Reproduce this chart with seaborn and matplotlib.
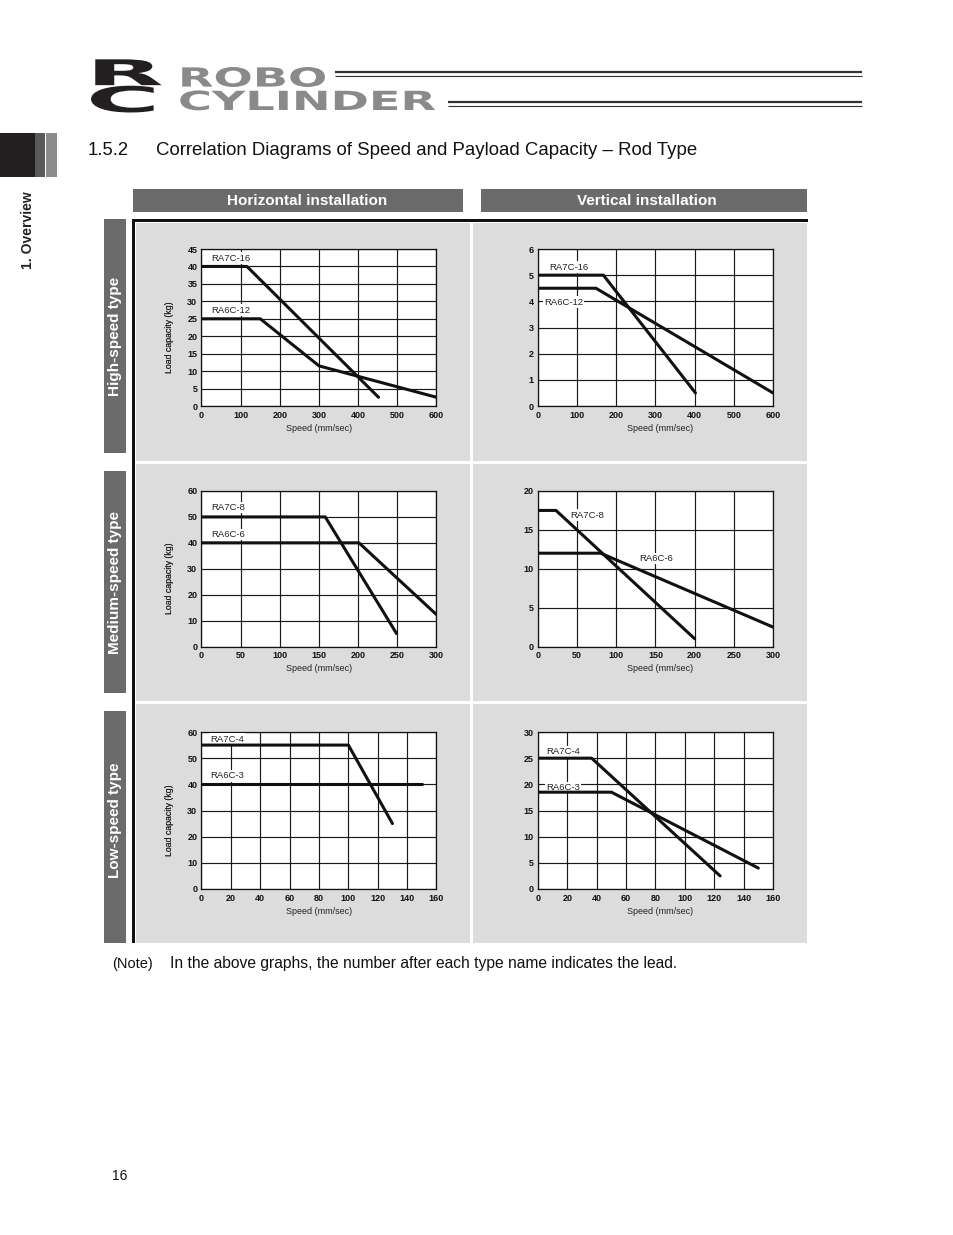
import matplotlib
matplotlib.use("Agg")
import matplotlib.pyplot as plt
import seaborn as sns
from matplotlib.patches import Rectangle
from matplotlib.lines import Line2D
from matplotlib.transforms import Affine2D
from matplotlib import patheffects

# ---------------- data ----------------
SPEED_TICKS_HIGH = [0, 100, 200, 300, 400, 500, 600]
SPEED_TICKS_MED = [0, 50, 100, 150, 200, 250, 300]
SPEED_TICKS_LOW = [0, 20, 40, 60, 80, 100, 120, 140, 160]
LOAD_TICKS_H_HIGH = [0, 5, 10, 15, 20, 25, 30, 35, 40, 45]
LOAD_TICKS_V_HIGH = [0, 1, 2, 3, 4, 5, 6]
LOAD_TICKS_H_MED = [0, 10, 20, 30, 40, 50, 60]
LOAD_TICKS_V_MED = [0, 5, 10, 15, 20]
LOAD_TICKS_H_LOW = [0, 10, 20, 30, 40, 50, 60]
LOAD_TICKS_V_LOW = [0, 5, 10, 15, 20, 25, 30]

H_HIGH_RA7C16_SPEED = [0, 116, 452]
H_HIGH_RA7C16_LOAD = [40, 40, 2.5]
H_HIGH_RA6C12_SPEED = [0, 150, 300, 600]
H_HIGH_RA6C12_LOAD = [25, 25, 11.5, 2.5]

V_HIGH_RA7C16_SPEED = [0, 167, 402]
V_HIGH_RA7C16_LOAD = [5, 5, 0.5]
V_HIGH_RA6C12_SPEED = [0, 148, 600]
V_HIGH_RA6C12_LOAD = [4.5, 4.5, 0.5]

H_MED_RA7C8_SPEED = [0, 158, 249]
H_MED_RA7C8_LOAD = [50, 50, 5]
H_MED_RA6C6_SPEED = [0, 201, 300]
H_MED_RA6C6_LOAD = [40, 40, 12.3]

V_MED_RA7C8_SPEED = [0, 23, 200]
V_MED_RA7C8_LOAD = [17.5, 17.5, 1]
V_MED_RA6C6_SPEED = [0, 80, 300]
V_MED_RA6C6_LOAD = [12, 12, 2.5]

H_LOW_RA7C4_SPEED = [0, 100, 130]
H_LOW_RA7C4_LOAD = [55, 55, 25]
H_LOW_RA6C3_SPEED = [0, 150]
H_LOW_RA6C3_LOAD = [40, 40]

V_LOW_RA7C4_SPEED = [0, 36.5, 124]
V_LOW_RA7C4_LOAD = [25, 25, 2.5]
V_LOW_RA6C3_SPEED = [0, 50, 150]
V_LOW_RA6C3_LOAD = [18.5, 18.5, 4]

COLUMN_TITLES = ["Horizontal installation", "Vertical installation"]
ROW_TITLES = ["High-speed type", "Medium-speed type", "Low-speed type"]

# ---------------- style ----------------
sns.set_style("white")
plt.rcParams["font.family"] = ["Liberation Sans", "DejaVu Sans"]

W, H = 954, 1235
fig = plt.figure(figsize=(W / 100, H / 100), dpi=100)
fig.patch.set_facecolor("white")


def fx(x):
    return x / W


def fy(y):
    return 1 - y / H


def rect(x0, y0, x1, y1, color, z=-3):
    fig.add_artist(Rectangle((fx(x0), fy(y1)), (x1 - x0) / W, (y1 - y0) / H,
                             transform=fig.transFigure, facecolor=color,
                             edgecolor="none", zorder=z))


def hline(x0, x1, y, lw, color):
    fig.add_artist(Line2D([fx(x0), fx(x1)], [fy(y), fy(y)], transform=fig.transFigure,
                          lw=lw, color=color, solid_capstyle="butt"))


class HStretch(patheffects.AbstractPathEffect):
    def __init__(self, sx):
        super().__init__()
        self.sx = sx

    def draw_path(self, renderer, gc, tpath, affine, rgbFace=None):
        renderer.draw_path(gc, tpath, Affine2D().scale(self.sx, 1.0) + affine, rgbFace)


# ---------------- header / logo ----------------
fig.text(fx(86), fy(112), "R\nC", fontsize=25.5, fontweight="bold", color="#231f20",
         family="DejaVu Sans", ha="left", va="baseline", linespacing=0.735,
         multialignment="left", path_effects=[HStretch(2.85)])
fig.text(fx(178), fy(110), "ROBO\nCYLINDER", fontsize=19, fontweight="bold", color="#8a8a8a",
         family="DejaVu Sans", ha="left", va="baseline", linespacing=0.87,
         multialignment="left", path_effects=[HStretch(1.75)])
hline(335, 862, 71.5, 1.6, "#333333")
hline(335, 862, 75.5, 0.8, "#333333")
hline(448, 862, 101.5, 1.6, "#333333")
hline(448, 862, 105.5, 0.8, "#333333")

# side tab
rect(0, 133, 35, 177, "#231f20")
rect(35, 133, 45, 177, "#5a5a5a")
rect(46, 133, 57, 177, "#8c8c8c")
fig.text(fx(28), fy(230), "1. Overview", rotation=90, fontsize=10, fontweight="bold",
         color="#222222", ha="center", va="center")

fig.text(fx(88), fy(155), "1.5.2", fontsize=13.3, color="#111111", ha="left", va="baseline")
fig.text(fx(156), fy(155), "Correlation Diagrams of Speed and Payload Capacity \u2013 Rod Type",
         fontsize=13.4, color="#111111", ha="left", va="baseline")

# column header boxes
rect(133, 189, 463, 212, "#6b6b6b")
rect(481, 189, 807, 212, "#6b6b6b")
fig.text(fx(307), fy(201), COLUMN_TITLES[0], fontsize=11, fontweight="bold", color="white",
         ha="center", va="center")
fig.text(fx(647), fy(201), COLUMN_TITLES[1], fontsize=11, fontweight="bold", color="white",
         ha="center", va="center")

# row label boxes
row_boxes = [(219, 453), (471, 693), (711, 943)]
row_text_y = [336, 582, 820]
for (y0, y1), ty, title in zip(row_boxes, row_text_y, ROW_TITLES):
    rect(104, y0, 126, y1, "#6b6b6b")
    fig.text(fx(115), fy(ty), title, rotation=90, fontsize=11, fontweight="bold",
             color="white", ha="center", va="center")

# panel background
rect(133, 219, 807, 943, "#dcdcdc", z=-3)
rect(470, 219, 473, 943, "white", z=-2)
rect(133, 461, 807, 464, "white", z=-2)
rect(133, 701, 807, 704, "white", z=-2)
rect(135, 222, 808, 223, "white", z=-2)
rect(135, 222, 136, 943, "white", z=-2)
rect(132, 219, 808, 222, "#111111", z=-1)
rect(132, 219, 135, 943, "#111111", z=-1)

# ---------------- charts ----------------
panels = [
    dict(col=0, row=0, xticks=SPEED_TICKS_HIGH, yticks=LOAD_TICKS_H_HIGH,
         series=[("RA7C-16", H_HIGH_RA7C16_SPEED, H_HIGH_RA7C16_LOAD, 25, 42.4),
                 ("RA6C-12", H_HIGH_RA6C12_SPEED, H_HIGH_RA6C12_LOAD, 25, 27.5)]),
    dict(col=1, row=0, xticks=SPEED_TICKS_HIGH, yticks=LOAD_TICKS_V_HIGH,
         series=[("RA7C-16", V_HIGH_RA7C16_SPEED, V_HIGH_RA7C16_LOAD, 28, 5.31),
                 ("RA6C-12", V_HIGH_RA6C12_SPEED, V_HIGH_RA6C12_LOAD, 15, 3.97)]),
    dict(col=0, row=1, xticks=SPEED_TICKS_MED, yticks=LOAD_TICKS_H_MED,
         series=[("RA7C-8", H_MED_RA7C8_SPEED, H_MED_RA7C8_LOAD, 12.5, 53.5),
                 ("RA6C-6", H_MED_RA6C6_SPEED, H_MED_RA6C6_LOAD, 12.5, 43.2)]),
    dict(col=1, row=1, xticks=SPEED_TICKS_MED, yticks=LOAD_TICKS_V_MED,
         series=[("RA7C-8", V_MED_RA7C8_SPEED, V_MED_RA7C8_LOAD, 41, 16.9),
                 ("RA6C-6", V_MED_RA6C6_SPEED, V_MED_RA6C6_LOAD, 129, 11.3)]),
    dict(col=0, row=2, xticks=SPEED_TICKS_LOW, yticks=LOAD_TICKS_H_LOW,
         series=[("RA7C-4", H_LOW_RA7C4_SPEED, H_LOW_RA7C4_LOAD, 6, 57.3),
                 ("RA6C-3", H_LOW_RA6C3_SPEED, H_LOW_RA6C3_LOAD, 6, 43.2)]),
    dict(col=1, row=2, xticks=SPEED_TICKS_LOW, yticks=LOAD_TICKS_V_LOW,
         series=[("RA7C-4", V_LOW_RA7C4_SPEED, V_LOW_RA7C4_LOAD, 5.5, 26.2),
                 ("RA6C-3", V_LOW_RA6C3_SPEED, V_LOW_RA6C3_LOAD, 5.5, 19.4)]),
]

col_x = [201.5, 538]
row_y = [(249, 406), (491, 646.5), (732, 889)]
AX_W = 235

for p in panels:
    x0 = col_x[p["col"]]
    y0, y1 = row_y[p["row"]]
    ax = fig.add_axes([fx(x0), fy(y1), AX_W / W, (y1 - y0) / H])
    ax.set_facecolor("white")
    xt, yt = p["xticks"], p["yticks"]
    ax.set_xlim(xt[0], xt[-1])
    ax.set_ylim(yt[0], yt[-1])
    ax.set_xticks(xt)
    ax.set_yticks(yt)
    ax.set_xticklabels([str(v) for v in xt], fontsize=6.5, fontweight="bold")
    ax.set_yticklabels([str(v) for v in yt], fontsize=6.5, fontweight="bold")
    ax.tick_params(length=0, pad=3, colors="#111111")
    ax.tick_params(axis="x", pad=3.6)
    ax.grid(True, color="#1a1a1a", lw=0.85)
    ax.set_axisbelow(True)
    for s in ax.spines.values():
        s.set_color("#111111")
        s.set_linewidth(0.9)
    for name, sx, sy, lx, ly in p["series"]:
        sns.lineplot(x=sx, y=sy, ax=ax, color="#111111", lw=2.2, sort=False,
                     estimator=None, zorder=4)
        ax.text(lx, ly, name, fontsize=6.8, color="#222222", ha="left", va="center",
                zorder=3, bbox=dict(boxstyle="square,pad=0.12", fc="white", ec="none"))
    ax.set_xlabel("Speed (mm/sec)", fontsize=6.5, color="#222222")
    ax.set_ylabel("Load capacity (kg)", fontsize=6.3, color="#222222")
    ax.xaxis.set_label_coords(0.5 if p["col"] == 0 else 0.52, -(424 - 406) / 157)
    ax.yaxis.set_label_coords(-(x0 - 174) / AX_W, 0.44)

# ---------------- footer ----------------
fig.text(fx(112), fy(968), "(Note)", fontsize=10.5, color="#111111", ha="left", va="baseline")
fig.text(fx(170), fy(968),
         "In the above graphs, the number after each type name indicates the lead.",
         fontsize=11.25, color="#111111", ha="left", va="baseline")
fig.text(fx(112), fy(1180), "16", fontsize=10, color="#111111", ha="left", va="baseline")

fig.savefig("out.png", dpi=100)
